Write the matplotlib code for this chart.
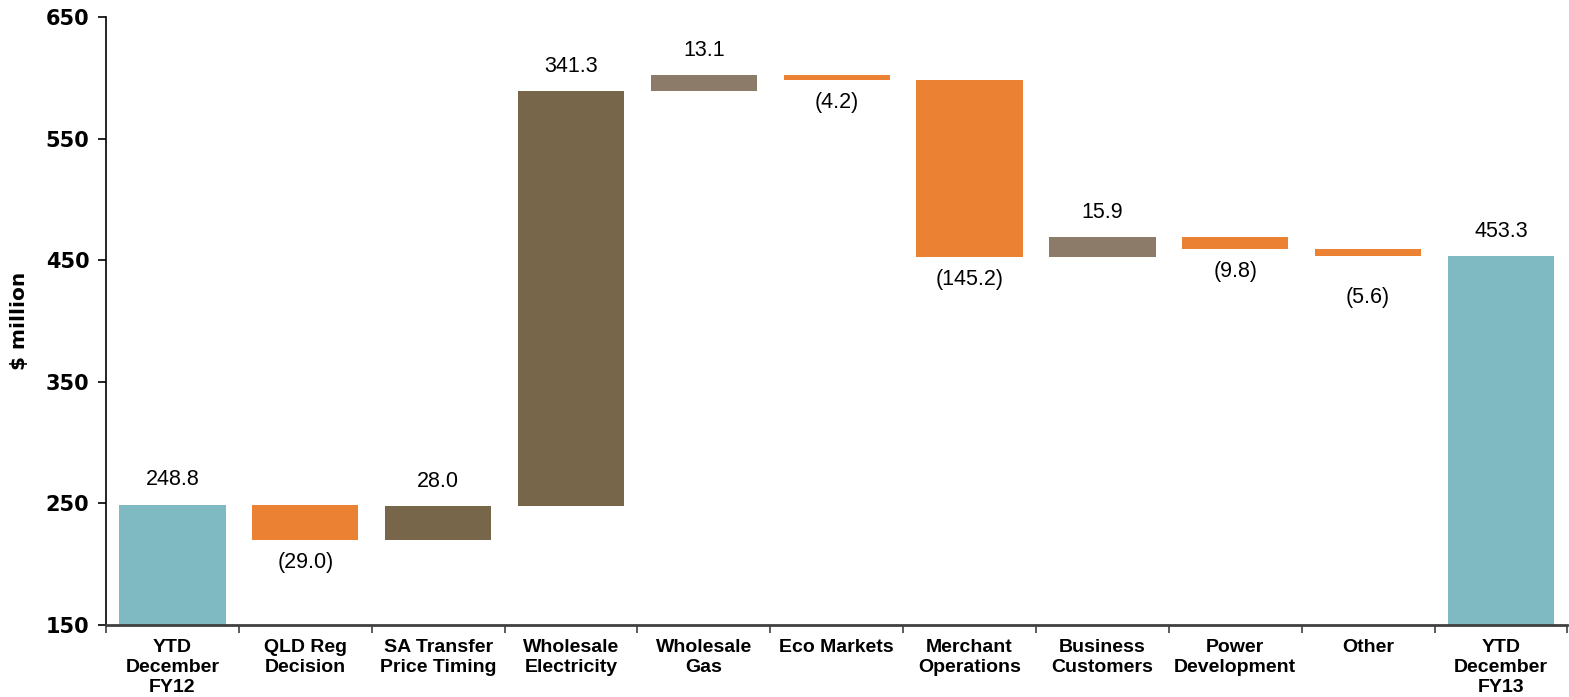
import matplotlib.pyplot as plt

# Category labels along the x axis
categories = ['YTD\nDecember\nFY12', 'QLD Reg\nDecision', 'SA Transfer\nPrice Timing',
              'Wholesale\nElectricity', 'Wholesale\nGas', 'Eco Markets',
              'Merchant\nOperations', 'Business\nCustomers', 'Power\nDevelopment',
              'Other', 'YTD\nDecember\nFY13']

# Opening total, movements, closing total ($ million)
opening = 248.8
changes = [-29.0, 28.0, 341.3, 13.1, -4.2, -145.2, 15.9, -9.8, -5.6]
closing = 453.3

# bar kind: total / down / up_dark / up_light
kinds = ['total', 'down', 'up_dark', 'up_dark', 'up_light', 'down', 'down',
         'up_light', 'down', 'down', 'total']
colors = {'total': '#7FB9C1', 'down': '#EB8233', 'up_dark': '#78664A', 'up_light': '#8D7B6A'}

yticks = [150, 250, 350, 450, 550, 650]

fig = plt.figure(figsize=(15.69, 6.97), dpi=100)
ax = fig.add_axes([0.0676, 0.1033, 0.9314, 0.8723])

base_floor = 150
bottoms, heights, labels = [], [], []
bottoms.append(base_floor)
heights.append(opening - base_floor)
labels.append(opening)
running = opening
for c in changes:
    if c >= 0:
        bottoms.append(running)
        heights.append(c)
    else:
        bottoms.append(running + c)
        heights.append(-c)
    labels.append(c)
    running += c
bottoms.append(base_floor)
heights.append(closing - base_floor)
labels.append(closing)

x = list(range(len(categories)))
ax.bar(x, heights, bottom=bottoms, width=0.8,
       color=[colors[k] for k in kinds], edgecolor='none', zorder=2)

for i, (b, h, v) in enumerate(zip(bottoms, heights, labels)):
    if v >= 0:
        ax.annotate(f'{v:.1f}', (i, b + h), xytext=(0, 18), textcoords='offset points',
                    ha='center', va='center', fontsize=15.5, family='Liberation Sans')
    else:
        # the small "Other" step sits lower to stay clear of its neighbour
        dy = -30 if categories[i] == 'Other' else -16
        ax.annotate(f'({-v:.1f})', (i, b), xytext=(0, dy), textcoords='offset points',
                    ha='center', va='center', fontsize=15.5, family='Liberation Sans')

ax.set_xlim(-0.5, len(categories) - 0.5)
ax.set_ylim(150, 650)
ax.set_yticks(yticks)
ax.set_yticklabels([str(t) for t in yticks], fontsize=15, fontweight='bold', family='DejaVu Sans')
ax.set_ylabel('$ million', fontsize=14.5, fontweight='bold', family='DejaVu Sans', labelpad=12)

# category boundaries carry the ticks, labels sit in between
ax.set_xticks([i + 0.5 for i in range(-1, len(categories))])
ax.set_xticklabels([])
ax.set_xticks(x, minor=True)
ax.set_xticklabels(categories, minor=True, fontsize=14, fontweight='bold',
                   family='Liberation Sans', linespacing=1.25)
ax.tick_params(axis='x', which='minor', length=0, pad=10)
ax.tick_params(axis='x', which='major', length=6, width=1.2, color='#404040')
ax.tick_params(axis='y', length=6, width=1.2, pad=6)

ax.spines['top'].set_visible(False)
ax.spines['right'].set_visible(False)
ax.spines['left'].set_linewidth(1.2)
ax.spines['bottom'].set_linewidth(2)
ax.spines['bottom'].set_color('#404040')

fig.savefig('out.png', dpi=100)
